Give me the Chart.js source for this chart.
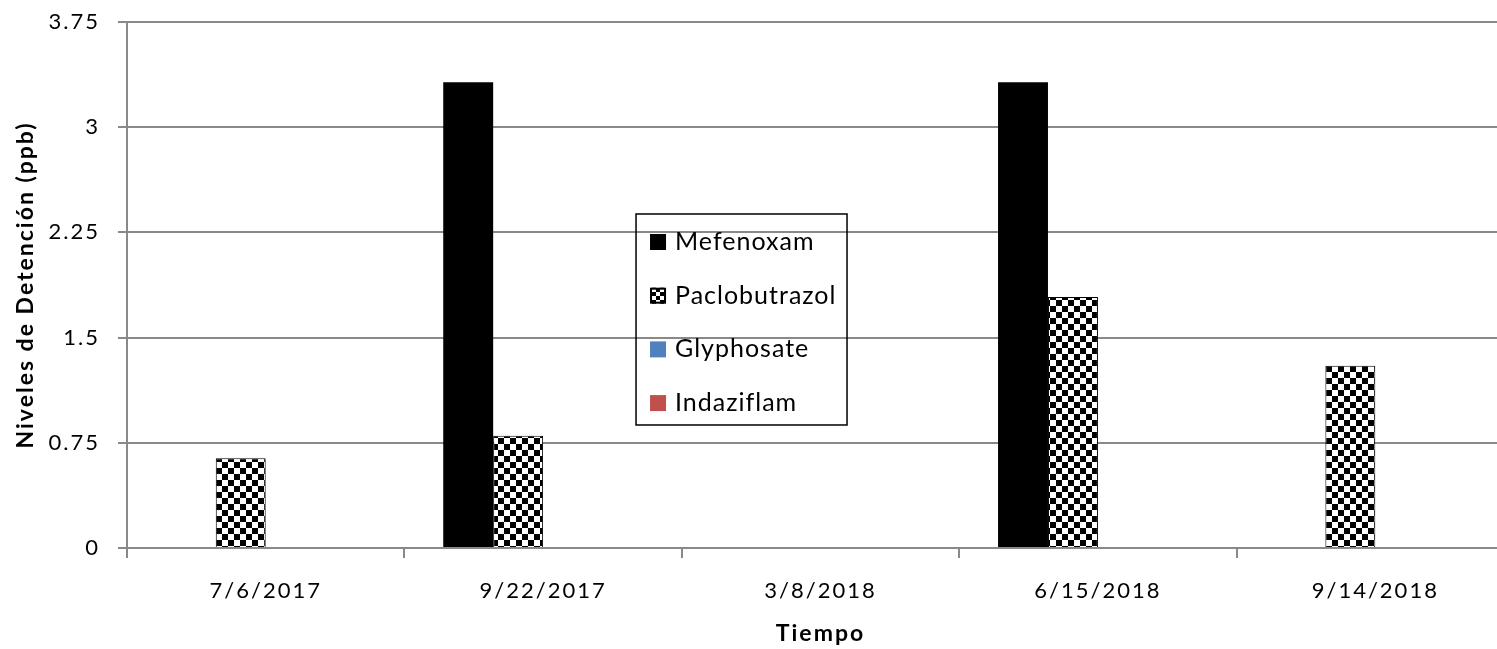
<!DOCTYPE html>
<html>
<head>
<meta charset="utf-8">
<script src="https://cdn.jsdelivr.net/npm/chart.js@4.4.0/dist/chart.umd.min.js"></script>
<style>
  html, body { margin: 0; padding: 0; overflow: hidden; background: #fff; }
  canvas { display: block; }
</style>
</head>
<body>
<canvas id="chart" width="1514" height="649"></canvas>
<script>
// data
const categories = ['7/6/2017', '9/22/2017', '3/8/2018', '6/15/2018', '9/14/2018'];
const seriesNames = ['Mefenoxam', 'Paclobutrazol', 'Glyphosate', 'Indaziflam'];
const mefenoxam = [0, 3.32, 0, 3.32, 0];
const paclobutrazol = [0.64, 0.80, 0, 1.79, 1.30];
const glyphosate = [0, 0, 0, 0, 0];
const indaziflam = [0, 0, 0, 0, 0];
const yTicks = [0, 0.75, 1.5, 2.25, 3, 3.75];

const gridGray = '#898989';
const fontFamily = 'Lato, "Open Sans", sans-serif';

// checkerboard fill for Paclobutrazol
const makeChecker = (cell) => {
    const c = document.createElement('canvas');
    c.width = cell * 2;
    c.height = cell * 2;
    const g = c.getContext('2d');
    g.fillStyle = '#fff';
    g.fillRect(0, 0, c.width, c.height);
    g.fillStyle = '#000';
    g.fillRect(0, 0, cell, cell);
    g.fillRect(cell, cell, cell, cell);
    return g.createPattern(c, 'repeat');
};
const checker = makeChecker(6);
const smallChecker = makeChecker(4);

// the picture's text is spaced out a bit, keep that
const spacingPlugin = {
    id: 'spacing',
    beforeUpdate(chart) { chart.ctx.letterSpacing = '2px'; },
    beforeDraw(chart) { chart.ctx.letterSpacing = '2px'; }
};

// boxed legend sitting inside the plot area (no fill, grid shows through)
const boxLegend = {
    id: 'boxLegend',
    afterDraw(chart) {
        const ctx = chart.ctx;
        const area = chart.chartArea;
        const w = area.right - area.left;
        const h = area.bottom - area.top;
        const left = area.left + w * 0.367;
        const top = area.top + h * 0.365;
        const boxW = 211;
        const boxH = 211;
        const rowGap = 53.7;

        ctx.save();
        ctx.lineWidth = 1.5;
        ctx.strokeStyle = '#000';
        ctx.strokeRect(left, top, boxW, boxH);

        ctx.font = '25px ' + fontFamily;
        ctx.letterSpacing = '1px';
        ctx.textBaseline = 'middle';
        ctx.textAlign = 'left';
        chart.data.datasets.forEach((ds, i) => {
            const cy = top + 28 + i * rowGap;
            const mx = left + 14;
            const my = cy - 8;
            if (ds.label === 'Paclobutrazol') {
                ctx.fillStyle = smallChecker;
                ctx.fillRect(mx, my, 16, 16);
                ctx.lineWidth = 2;
                ctx.strokeStyle = '#000';
                ctx.strokeRect(mx + 1, my + 1, 14, 14);
            } else {
                ctx.fillStyle = ds.backgroundColor;
                ctx.fillRect(mx, my, 16, 16);
            }
            ctx.fillStyle = '#000';
            ctx.fillText(ds.label, left + 39, cy);
        });
        ctx.restore();
    }
};

const ctx = document.getElementById('chart').getContext('2d');
new Chart(ctx, {
    type: 'bar',
    data: {
        labels: categories,
        datasets: [
            { label: seriesNames[0], data: mefenoxam, backgroundColor: '#000000', borderWidth: 0 },
            { label: seriesNames[1], data: paclobutrazol, backgroundColor: checker, borderColor: '#000', borderWidth: 1 },
            { label: seriesNames[2], data: glyphosate, backgroundColor: '#4F81BD', borderWidth: 0 },
            { label: seriesNames[3], data: indaziflam, backgroundColor: '#C0504D', borderWidth: 0 }
        ]
    },
    options: {
        responsive: false,
        animation: false,
        devicePixelRatio: 1,
        datasets: {
            bar: { categoryPercentage: 0.72, barPercentage: 1 }
        },
        layout: { padding: { top: 22, right: 0, bottom: 0, left: 0 } },
        plugins: {
            legend: { display: false },
            tooltip: { enabled: false }
        },
        scales: {
            x: {
                offset: true,
                grid: {
                    offset: true,
                    drawOnChartArea: false,
                    tickLength: 10,
                    color: gridGray,
                    lineWidth: 2
                },
                border: { color: gridGray, width: 2 },
                ticks: {
                    color: '#000',
                    padding: 20,
                    font: { family: fontFamily, size: 22 }
                },
                title: {
                    display: true,
                    text: 'Tiempo',
                    color: '#000',
                    padding: { top: 0, bottom: 2 },
                    font: { family: fontFamily, size: 23, weight: 'bold' }
                },
                afterFit(scale) { scale.height = 101; scale.paddingLeft = 0; scale.paddingRight = 0; }
            },
            y: {
                min: 0,
                max: 3.75,
                afterBuildTicks(scale) {
                    scale.ticks = yTicks.map(v => ({ value: v }));
                },
                grid: {
                    color: gridGray,
                    lineWidth: 2,
                    tickLength: 9
                },
                border: { color: gridGray, width: 2 },
                ticks: {
                    color: '#000',
                    padding: 18,
                    font: { family: fontFamily, size: 22 },
                    callback: (v) => String(+v.toFixed(2))
                },
                title: {
                    display: true,
                    text: 'Niveles de Detención (ppb)',
                    color: '#000',
                    padding: { top: 12, bottom: 0 },
                    font: { family: fontFamily, size: 23, weight: 'bold' }
                },
                afterFit(scale) { scale.width = 127; scale.paddingTop = 0; scale.paddingBottom = 0; }
            }
        }
    },
    plugins: [spacingPlugin, boxLegend]
});
</script>
</body>
</html>
